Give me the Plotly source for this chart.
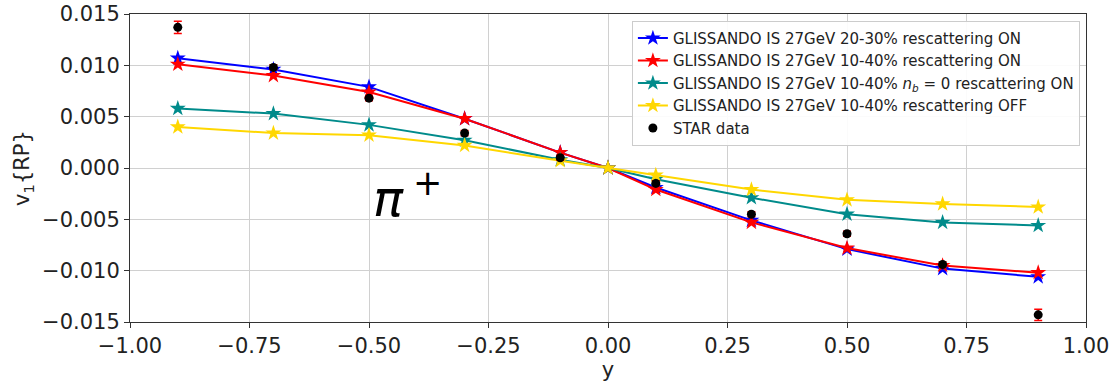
import plotly.graph_objects as go

# rapidity bins
y_vals = [-0.9, -0.7, -0.5, -0.3, -0.1, 0.0, 0.1, 0.3, 0.5, 0.7, 0.9]

# model curves: v1{RP} of pi+
v1_2030_on = [0.0107, 0.0096, 0.0079, 0.0048, 0.0015, 0.0, -0.0019, -0.0051, -0.0079, -0.0098, -0.0106]
v1_1040_on = [0.0101, 0.0090, 0.0074, 0.0048, 0.0015, 0.0, -0.0021, -0.0053, -0.0078, -0.0095, -0.0102]
v1_1040_nb0 = [0.0058, 0.0053, 0.0042, 0.0027, 0.0008, 0.0, -0.0011, -0.0029, -0.0045, -0.0053, -0.0056]
v1_1040_off = [0.0040, 0.0034, 0.0032, 0.0022, 0.0007, 0.0, -0.0007, -0.0021, -0.0031, -0.0035, -0.0038]

# STAR measurement
star_y = [-0.9, -0.7, -0.5, -0.3, -0.1, 0.1, 0.3, 0.5, 0.7, 0.9]
star_v1 = [0.0137, 0.0098, 0.0068, 0.0034, 0.0010, -0.0015, -0.0045, -0.0064, -0.0094, -0.0143]
star_err = [0.0006, 0.00025, 0.00025, 0.00025, 0.00025, 0.00025, 0.00025, 0.00025, 0.00025, 0.00055]

x_ticks = [-1.0, -0.75, -0.5, -0.25, 0.0, 0.25, 0.5, 0.75, 1.0]
y_ticks = [-0.015, -0.010, -0.005, 0.0, 0.005, 0.010, 0.015]

fig = go.Figure()

curves = [
    ("GLISSANDO IS 27GeV 20-30% rescattering ON", v1_2030_on, "#0000ff"),
    ("GLISSANDO IS 27GeV 10-40% rescattering ON", v1_1040_on, "#ff0000"),
    ("GLISSANDO IS 27GeV 10-40% <i>n</i><sub><i>b</i></sub> = 0 rescattering ON", v1_1040_nb0, "#008b8b"),
    ("GLISSANDO IS 27GeV 10-40% rescattering OFF", v1_1040_off, "#ffd700"),
]
for i, (name, vals, col) in enumerate(curves):
    fig.add_trace(go.Scatter(
        x=y_vals, y=vals, name=name, mode="lines+markers",
        line=dict(color=col, width=2),
        marker=dict(symbol="star", size=12, color=col, line=dict(width=0)),
    ))

fig.add_trace(go.Scatter(
    x=star_y, y=star_v1, name="STAR data", mode="markers",
    marker=dict(symbol="circle", size=9, color="black"),
    error_y=dict(type="data", array=star_err, color="#ff0000", thickness=1.5, width=4),
))

fig.add_annotation(
    x=-0.42, y=-0.0027, xref="x", yref="y", showarrow=False,
    text="<i>π</i>\u2009<sup>+</sup>",
    font=dict(family="DejaVu Sans", size=50, color="black"),
)

axis_common = dict(
    showline=True, linecolor="#333333", linewidth=1, mirror=True,
    showgrid=True, gridcolor="#d0d0d0", gridwidth=1,
    ticks="outside", ticklen=5, tickcolor="#333333",
    tickfont=dict(family="DejaVu Sans", size=21, color="#222222"),
    zeroline=False, automargin=False,
)

fig.update_layout(
    width=1118, height=383,
    margin=dict(l=130, r=32, t=14, b=61),
    paper_bgcolor="white", plot_bgcolor="white",
    xaxis=dict(range=[-1, 1], tickvals=x_ticks, tickformat=".2f",
               title=dict(text="y", font=dict(family="DejaVu Sans", size=21, color="#222222"), standoff=3),
               **axis_common),
    yaxis=dict(range=[-0.015, 0.015], tickvals=y_ticks, tickformat=".3f",
               title=dict(text="v<sub>1</sub>{RP}", font=dict(family="DejaVu Sans", size=21, color="#222222"), standoff=6),
               **axis_common),
    legend=dict(
        x=0.525, y=0.978, xanchor="left", yanchor="top",
        bgcolor="rgba(255,255,255,0.9)", bordercolor="#cccccc", borderwidth=1,
        font=dict(family="DejaVu Sans", size=15, color="#222222"),
        itemwidth=30,
    ),
    showlegend=True,
)

fig.write_html("out.html")
